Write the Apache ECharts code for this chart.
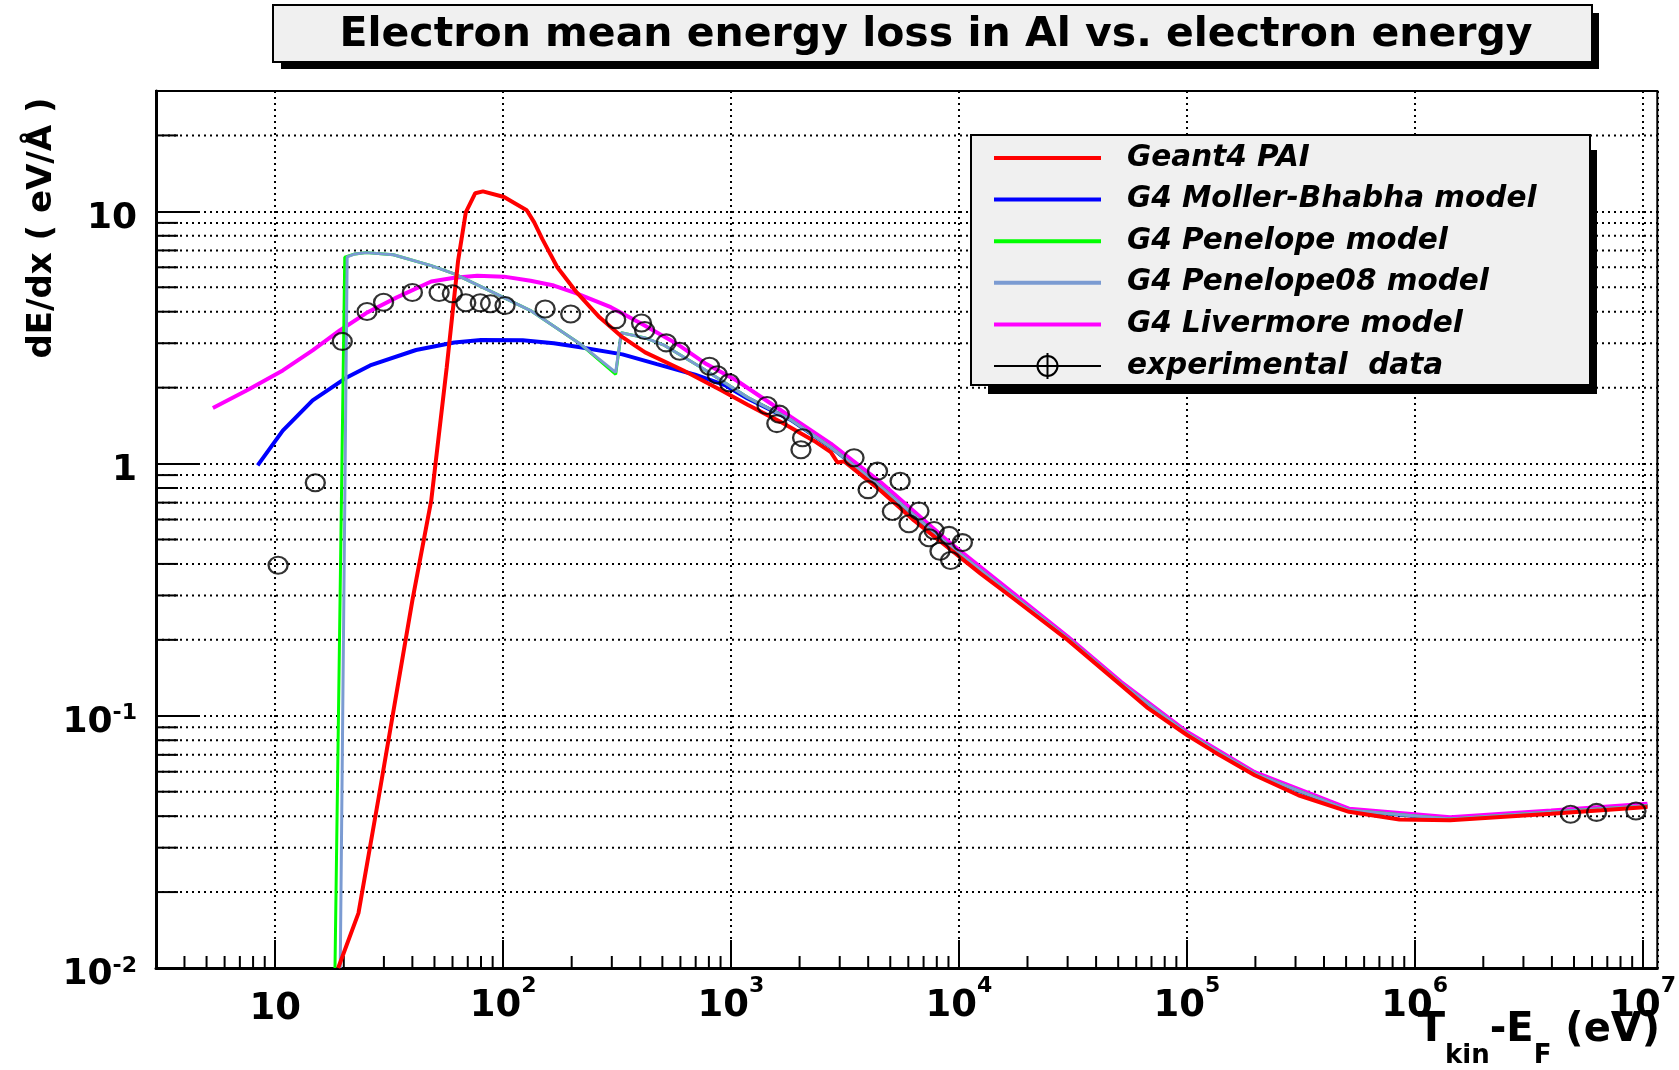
<!DOCTYPE html>
<html>
<head>
<meta charset="utf-8">
<title>Electron mean energy loss in Al vs. electron energy</title>
<script src="https://cdn.jsdelivr.net/npm/echarts@6.0.0/dist/echarts.min.js"></script>
<style>
html, body { margin: 0; padding: 0; background: #fff; }
#main { width: 1679px; height: 1070px; }
</style>
</head>
<body>
<div id="main"></div>
<script>
// axis ranges (eV, eV/Å)
const xMin = 3, xMax = 1.16e7;
const yMin = 0.01, yMax = 30;

// minor tick values
const xMinorTicks = [4, 5, 6, 7, 8, 9,
  20, 30, 40, 50, 60, 70, 80, 90,
  200, 300, 400, 500, 600, 700, 800, 900,
  2e3, 3e3, 4e3, 5e3, 6e3, 7e3, 8e3, 9e3,
  2e4, 3e4, 4e4, 5e4, 6e4, 7e4, 8e4, 9e4,
  2e5, 3e5, 4e5, 5e5, 6e5, 7e5, 8e5, 9e5,
  2e6, 3e6, 4e6, 5e6, 6e6, 7e6, 8e6, 9e6];
const yMinorTicks = [0.02, 0.03, 0.04, 0.05, 0.06, 0.07, 0.08, 0.09,
  0.2, 0.3, 0.4, 0.5, 0.6, 0.7, 0.8, 0.9,
  2, 3, 4, 5, 6, 7, 8, 9, 20];

const seriesNames = ['Geant4 PAI', 'G4 Moller-Bhabha model', 'G4 Penelope model',
  'G4 Penelope08 model', 'G4 Livermore model', 'experimental  data'];
const seriesColors = ['#ff0000', '#0000ff', '#00ff00', '#7b9bd2', '#ff00ff', '#000000'];

// [T_kin - E_F (eV), dE/dx (eV/Å)]
const paiData = [
  [18.9, 0.0100], [23.2, 0.0165], [28.4, 0.047], [40.0, 0.287], [48.4, 0.714],
  [56.6, 2.41], [63.5, 6.38], [68.6, 9.9], [75.5, 11.8], [81.6, 12.0], [101, 11.4],
  [127, 10.1], [137, 9.04], [148.5, 7.78], [173, 6.0], [210, 4.78], [265, 3.80],
  [334, 3.17], [420, 2.76], [619, 2.34], [910, 1.95], [1183, 1.71], [1656, 1.46],
  [2317, 1.23], [2742, 1.11], [2934, 1.01], [3140, 1.02], [4542, 0.78], [6355, 0.595],
  [8892, 0.467], [12450, 0.366], [17420, 0.291], [30000, 0.200], [51600, 0.132],
  [66800, 0.108], [100600, 0.0837], [132000, 0.0719], [198700, 0.0581], [309000, 0.0484],
  [515000, 0.0416], [857000, 0.0388], [1.43e6, 0.0385], [2.38e6, 0.0397],
  [3.97e6, 0.0409], [6.6e6, 0.0422], [1.05e7, 0.0435]
];
const mollerData = [
  [8.38, 0.983], [10.8, 1.35], [14.6, 1.78], [20.7, 2.20], [26.1, 2.45], [41.5, 2.82],
  [61.1, 3.02], [80, 3.09], [122, 3.08], [167, 3.0], [218, 2.89], [334, 2.71],
  [473, 2.48], [696, 2.25], [946, 2.04], [1183, 1.81], [1832, 1.49], [2742, 1.16],
  [4542, 0.81], [8892, 0.48], [17420, 0.298], [30000, 0.203], [51600, 0.134],
  [100600, 0.085], [198700, 0.059], [515000, 0.0422], [1.43e6, 0.039],
  [3.97e6, 0.0415], [1.05e7, 0.044]
];
const penelopeData = [
  [18.3, 0.0100], [20.2, 6.58], [22.4, 6.78], [25.1, 6.86], [33, 6.73], [48.4, 6.09],
  [61.1, 5.65], [89.9, 4.78], [132, 4.04], [218, 2.98], [312, 2.26], [330, 3.3],
  [420, 3.15], [511, 2.94], [752, 2.38], [1183, 1.83], [1832, 1.49], [2742, 1.16],
  [4542, 0.81], [8892, 0.48], [17420, 0.298], [30000, 0.203], [51600, 0.134],
  [100600, 0.085], [198700, 0.059], [515000, 0.0422], [1.43e6, 0.039],
  [3.97e6, 0.0415], [1.05e7, 0.044]
];
const penelope08Data = [
  [19.3, 0.0100], [20.7, 6.6], [22.4, 6.78], [25.1, 6.86], [33, 6.73], [48.4, 6.09],
  [61.1, 5.65], [89.9, 4.78], [132, 4.04], [218, 2.98], [312, 2.30], [330, 3.3],
  [420, 3.15], [511, 2.94], [752, 2.38], [1183, 1.83], [1832, 1.49], [2742, 1.16],
  [4542, 0.81], [8892, 0.48], [17420, 0.298], [30000, 0.203], [51600, 0.134],
  [100600, 0.085], [198700, 0.059], [515000, 0.0422], [1.43e6, 0.039],
  [3.97e6, 0.0415], [1.05e7, 0.044]
];
const livermoreData = [
  [5.33, 1.66], [7.6, 1.96], [10.8, 2.34], [14.6, 2.81], [19.2, 3.37], [25.1, 3.95],
  [34.2, 4.56], [48.4, 5.27], [61.1, 5.45], [77.0, 5.55], [101, 5.51], [132, 5.31],
  [167, 5.08], [210, 4.73], [297, 4.17], [405, 3.58], [573, 3.0], [780, 2.48],
  [1062, 2.13], [1832, 1.53], [2742, 1.20], [4542, 0.843], [8892, 0.495],
  [17420, 0.305], [30000, 0.206], [51600, 0.136], [100600, 0.0862], [198700, 0.0598],
  [515000, 0.0428], [1.43e6, 0.0396], [3.97e6, 0.0421], [1.05e7, 0.0448]
];
const expData = [
  [10.3, 0.395], [15.0, 0.839], [19.7, 3.05], [25.3, 4.01], [29.9, 4.36], [40, 4.77],
  [52.4, 4.77], [59.9, 4.71], [68.6, 4.34], [79.4, 4.34], [88.1, 4.30], [102, 4.23],
  [153, 4.10], [198, 3.92], [312, 3.72], [405, 3.61], [418, 3.37], [520, 3.01],
  [596, 2.79], [805, 2.43], [871, 2.25], [984, 2.09], [1439, 1.70], [1630, 1.57],
  [1589, 1.44], [2061, 1.265], [2028, 1.134], [3467, 1.054], [4395, 0.933],
  [3996, 0.788], [5521, 0.851], [5108, 0.646], [6681, 0.648], [6039, 0.577],
  [7782, 0.543], [7396, 0.508], [9054, 0.519], [8262, 0.449], [10360, 0.486],
  [9200, 0.413], [4.83e6, 0.0407], [6.28e6, 0.0414], [9.35e6, 0.0419]
];

const FONT = 'DejaVu Sans';
const dotted = { color: '#000', width: 2, type: [2, 4] };

const isDecade = function (v) {
  const e = Math.log10(v);
  return Math.abs(e - Math.round(e)) < 1e-6 ? Math.round(e) : null;
};
const xLabel = function (v) {
  const n = isDecade(v);
  if (n === null) return '';
  return n === 1 ? '{c|10}' : '{b|10}{s|' + n + '}';
};
const yLabel = function (v) {
  const n = isDecade(v);
  if (n === null) return '';
  if (n === 0) return '{b|1}';
  if (n === 1) return '{b|10}';
  return '{b|10}{s|' + n + '}';
};

// minor ticks + dotted minor grid
const minorY = function (params, api) {
  const cs = params.coordSys;
  const y = api.coord([xMin, api.value(1)])[1];
  return {
    type: 'group',
    children: [
      { type: 'line', shape: { x1: cs.x, y1: y, x2: cs.x + cs.width, y2: y },
        style: { stroke: '#000', lineWidth: 2, lineDash: [2, 4] } },
      { type: 'line', shape: { x1: cs.x, y1: y, x2: cs.x + 22, y2: y },
        style: { stroke: '#000', lineWidth: 2 } }
    ]
  };
};
const minorX = function (params, api) {
  const cs = params.coordSys;
  const x = api.coord([api.value(0), yMin])[0];
  const yb = cs.y + cs.height;
  return { type: 'line', shape: { x1: x, y1: yb, x2: x, y2: yb - 12 },
    style: { stroke: '#000', lineWidth: 2 } };
};

const lineSeries = function (idx, data, width, z) {
  return {
    name: seriesNames[idx], type: 'line', data: data, symbol: 'none', z: z,
    lineStyle: { color: seriesColors[idx], width: width }, silent: true
  };
};

// legend drawn as graphics
const legendItems = [];
seriesNames.forEach(function (name, i) {
  const y = 158 + i * 41.6;
  legendItems.push({ type: 'line', z: 102, shape: { x1: 994, y1: y, x2: 1101, y2: y },
    style: { stroke: seriesColors[i], lineWidth: i === 5 ? 2 : 4 } });
  legendItems.push({ type: 'text', z: 102, x: 1127, y: y,
    style: { text: name, fill: '#000', font: 'italic bold 29.5px "DejaVu Sans"',
      align: 'left', verticalAlign: 'middle' } });
});
legendItems.push({ type: 'ellipse', z: 103, shape: { cx: 1047.5, cy: 366, rx: 10, ry: 10 },
  style: { fill: 'none', stroke: '#000', lineWidth: 2 } });
legendItems.push({ type: 'line', z: 103, shape: { x1: 1047.5, y1: 353, x2: 1047.5, y2: 379 },
  style: { stroke: '#000', lineWidth: 2 } });

const chart = echarts.init(document.getElementById('main'));
chart.setOption({
  animation: false,
  backgroundColor: '#fff',
  textStyle: { fontFamily: FONT },
  grid: { left: 156, top: 91, right: 17, bottom: 102, show: true,
    borderColor: '#000', borderWidth: 2 },
  xAxis: {
    type: 'log', logBase: 10, min: xMin, max: xMax,
    axisLine: { onZero: false, lineStyle: { color: '#000', width: 3 } },
    axisTick: { inside: true, length: 28, lineStyle: { color: '#000', width: 2 } },
    splitLine: { show: true, lineStyle: dotted },
    axisLabel: {
      formatter: xLabel, margin: 7, showMinLabel: false, showMaxLabel: false,
      rich: {
        b: { fontFamily: FONT, fontWeight: 'bold', fontSize: 37, lineHeight: 50, verticalAlign: 'bottom', color: '#000' },
        c: { fontFamily: FONT, fontWeight: 'bold', fontSize: 37, lineHeight: 53, verticalAlign: 'bottom', color: '#000' },
        s: { fontFamily: FONT, fontWeight: 'bold', fontSize: 22, lineHeight: 22, verticalAlign: 'top', color: '#000' }
      }
    }
  },
  yAxis: {
    type: 'log', logBase: 10, min: yMin, max: yMax,
    axisLine: { onZero: false, lineStyle: { color: '#000', width: 3 } },
    axisTick: { inside: true, length: 44, lineStyle: { color: '#000', width: 2 } },
    splitLine: { show: true, lineStyle: dotted },
    axisLabel: {
      formatter: yLabel, margin: 19, showMaxLabel: false, padding: [12, 0, 0, 0],
      rich: {
        b: { fontFamily: FONT, fontWeight: 'bold', fontSize: 36, lineHeight: 38, verticalAlign: 'bottom', color: '#000' },
        s: { fontFamily: FONT, fontWeight: 'bold', fontSize: 22, lineHeight: 22, verticalAlign: 'top', color: '#000' }
      }
    }
  },
  graphic: [
    { type: 'rect', z: 100, shape: { x: 281, y: 13, width: 1318, height: 56 }, style: { fill: '#000' } },
    { type: 'rect', z: 100, shape: { x: 273, y: 5, width: 1319, height: 57 },
      style: { fill: '#f0f0f0', stroke: '#000', lineWidth: 2 } },
    { type: 'text', z: 101, x: 936, y: 35,
      style: { text: 'Electron mean energy loss in Al vs. electron energy', fill: '#000',
        font: 'bold 41px "DejaVu Sans"', align: 'center', verticalAlign: 'middle' } },
    { type: 'text', z: 101, x: 42, y: 228, rotation: Math.PI / 2,
      style: { text: 'dE/dx ( eV/Å )', fill: '#000', font: 'bold 34px "DejaVu Sans"',
        align: 'center', verticalAlign: 'middle' } },
    { type: 'text', z: 101, x: 1660, y: 1040,
      style: {
        text: '{b|T}{u|kin}{b|-E}{u|F}{b| (eV)}', align: 'right', verticalAlign: 'middle',
        rich: {
          b: { fontFamily: FONT, fontWeight: 'bold', fontSize: 40, lineHeight: 58, verticalAlign: 'top', fill: '#000' },
          u: { fontFamily: FONT, fontWeight: 'bold', fontSize: 26, lineHeight: 26, verticalAlign: 'bottom', fill: '#000' }
        }
      } },
    { type: 'rect', z: 100, shape: { x: 988, y: 150, width: 609, height: 244 }, style: { fill: '#000' } },
    { type: 'rect', z: 101, shape: { x: 971, y: 135, width: 619, height: 250 },
      style: { fill: '#f0f0f0', stroke: '#000', lineWidth: 2 } }
  ].concat(legendItems),
  series: [
    { type: 'custom', coordinateSystem: 'cartesian2d', renderItem: minorY, silent: true, z: 1,
      data: yMinorTicks.map(function (v) { return [xMin, v]; }) },
    { type: 'custom', coordinateSystem: 'cartesian2d', renderItem: minorX, silent: true, z: 1,
      data: xMinorTicks.map(function (v) { return [v, yMin]; }) },
    lineSeries(1, mollerData, 4, 3),
    lineSeries(4, livermoreData, 4, 3),
    lineSeries(2, penelopeData, 3, 4),
    lineSeries(3, penelope08Data, 3, 4),
    lineSeries(0, paiData, 4, 5),
    {
      name: seriesNames[5], type: 'scatter', data: expData, z: 6, silent: true,
      symbol: 'circle', symbolSize: [19, 17],
      itemStyle: { color: 'rgba(0,0,0,0)', borderColor: '#000', borderWidth: 2.2 }
    }
  ]
});
</script>
</body>
</html>
